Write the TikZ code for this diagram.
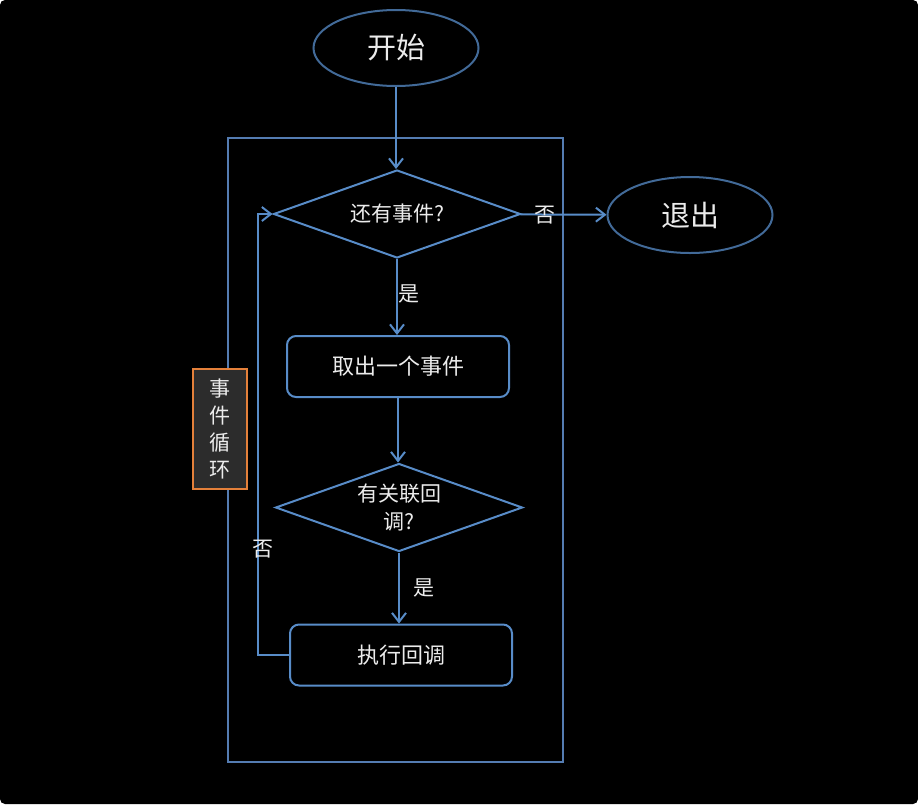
\documentclass[tikz,border=0pt]{standalone}
\usepackage{fontspec}
\setmainfont{Noto Sans CJK SC}
\usepackage{xcolor}
\usetikzlibrary{shapes.geometric, arrows.meta}

\definecolor{lineblue}{RGB}{88,140,200}
\definecolor{ellblue}{RGB}{66,106,152}
\definecolor{frameblue}{RGB}{84,124,178}
\definecolor{tagfill}{RGB}{44,44,44}
\definecolor{tagorange}{RGB}{228,128,58}
\definecolor{txt}{RGB}{236,236,236}

\tikzset{
  terminal/.style={ellipse, draw=ellblue, line width=2pt, minimum width=165pt, minimum height=76pt,
    text=txt, font=\fontsize{29}{32}\selectfont},
  decision/.style={diamond, draw=lineblue, line width=2pt, minimum width=247pt, minimum height=88pt,
    inner sep=0pt},
  process/.style={rectangle, rounded corners=9pt, draw=lineblue, line width=2pt, minimum width=222pt,
    minimum height=61pt, text=txt, font=\fontsize{22}{26}\selectfont},
  arr/.style={draw=lineblue, line width=2pt, -{Straight Barb[length=9pt, width=14pt, line width=2pt]}},
  lbl/.style={text=txt, align=center, font=\fontsize{21}{28}\selectfont},
}

\begin{document}
\begin{tikzpicture}[x=1pt, y=-1pt]
        % Black page with small rounded corners
        \useasboundingbox (0,0) rectangle (918,804);
        \fill[black, rounded corners=5pt] (0,0) rectangle (918,804);
        % Loop frame and its tag
        \node[draw=frameblue, line width=2pt, minimum width=335pt, minimum height=624pt] (loopframe) at (395.5,450) {};
        \node[draw=tagorange, fill=tagfill, line width=2pt, minimum width=54pt, minimum height=120pt,
          text=txt, align=center, font=\fontsize{21}{27}\selectfont] (looptag) at (220,429) {事\\件\\循\\环};
        % Start / exit
        \node[terminal] (start) at (396,48) {开始};
        \node[terminal] (quit) at (690,215) {退出};
        % Steps (diamond texts set on top, so they do not grow the shape)
        \node[decision] (ask) at (397,214) {};
        \node[lbl] (asktext) at (ask) {还有事件?};
        \node[process] (take) at (398,366.5) {取出一个事件};
        \node[decision] (hascb) at (399,507.5) {};
        \node[lbl] (hascbtext) at (hascb) {有关联回\\调?};
        \node[process] (exec) at (401,655) {执行回调};
        % Connectors
        \draw[arr] (start.south) -- (start.south |- ask.north);
        \draw[arr] (ask) -- (quit);
        \draw[arr] (ask.south) -- (ask.south |- take.north);
        \draw[arr] (take.south) -- (take.south |- hascb.north);
        \draw[arr] (hascb.south) -- (hascb.south |- exec.north);
        \draw[arr] (exec.west) -- ++(-31,0) |- (ask.west);
        % Branch labels
        \node[lbl] (no1) at (545,215) {否};
        \node[lbl] (yes1) at (409,294) {是};
        \node[lbl] (yes2) at (424,588) {是};
        \node[lbl] (no2) at (263,549) {否};
      \end{tikzpicture}
\end{document}
